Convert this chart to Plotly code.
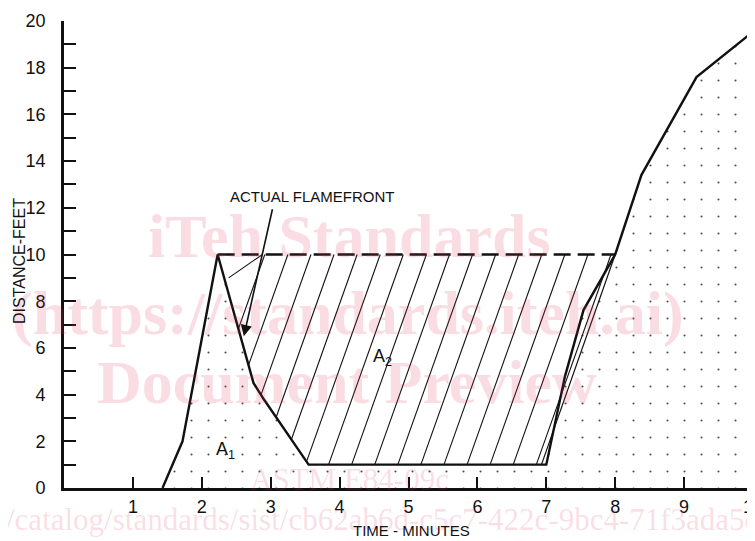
import plotly.graph_objects as go

# ---------------- data ----------------
# actual flamefront (distance in feet vs time in minutes), closed down to the axis at the right
front_x = [1.43, 1.72, 2.23, 2.75, 2.90, 3.55, 7.00, 7.06, 7.27, 7.54, 8.00, 8.38, 9.18, 9.97, 9.97]
front_y = [0.0, 2.0, 10.0, 4.5, 3.8, 1.0, 1.0, 1.85, 4.77, 7.62, 10.0, 13.4, 17.6, 19.47, 0.0]

# hatched area A2 (between flamefront and the 10 ft level)
hatch_x = [2.23, 2.75, 2.90, 3.55, 6.93, 8.00]
hatch_y = [10.0, 4.5, 3.8, 1.0, 1.0, 10.0]

# dashed 10 ft reference level
level_x = [2.23, 8.00]
level_y = [10.0, 10.0]

# short extra hatch stroke near the peak
extra_x = [2.39, 2.88]
extra_y = [9.0, 10.0]

x_ticks = [1, 2, 3, 4, 5, 6, 7, 8, 9, 10]
y_ticks = [0, 2, 4, 6, 8, 10, 12, 14, 16, 18, 20]
y_minor = [1, 3, 5, 7, 9, 11, 13, 15, 17, 19]

# ---------------- styling constants ----------------
HATCH_SLOPE = 8.3      # data units dy/dx of the hatch strokes
HATCH_STEP = 0.335     # horizontal spacing of the strokes (minutes)
HATCH_BASE = 3.84      # x where one stroke crosses y = 1
HATCH_MIN_C = 1.8

# the page body has an 8px margin: size the figure so it exactly fills the rest of the window
OFF = 8
WIN_W, WIN_H = 755, 541
FIG_W, FIG_H = WIN_W - OFF, WIN_H - OFF
PL, PT, PW, PH = 64, 21, 689, 467   # plot area in window pixels

SANS = "Liberation Sans, Arial, Roboto, sans-serif"
SERIF = "Liberation Serif, DejaVu Serif, Times New Roman, serif"
INK = "#111111"
WM = "rgba(225,50,90,0.17)"


def px_x(p):
    return (p - PL) / PW


def px_y(p):
    return (PT + PH - p) / PH


def clip_stroke(c):
    """Intersect the stroke x = c + (y-1)/slope with the convex hatch polygon."""
    pts = []
    n = len(hatch_x)
    for i in range(n):
        x1, y1 = hatch_x[i], hatch_y[i]
        x2, y2 = hatch_x[(i + 1) % n], hatch_y[(i + 1) % n]
        f1 = x1 - c - (y1 - 1) / HATCH_SLOPE
        f2 = x2 - c - (y2 - 1) / HATCH_SLOPE
        if f1 == f2:
            continue
        if (f1 <= 0 <= f2) or (f2 <= 0 <= f1):
            t = f1 / (f1 - f2)
            pts.append((x1 + t * (x2 - x1), y1 + t * (y2 - y1)))
    if len(pts) < 2:
        return None
    pts.sort(key=lambda p: p[1])
    return pts[0], pts[-1]


hx, hy = [], []
for k in range(-20, 20):
    c = HATCH_BASE + k * HATCH_STEP
    if c < HATCH_MIN_C:
        continue
    seg = clip_stroke(c)
    if seg is None:
        continue
    (xa, ya), (xb, yb) = seg
    if abs(yb - ya) < 1e-6:
        continue
    hx += [xa, xb, None]
    hy += [ya, yb, None]
hx += extra_x + [None]
hy += extra_y + [None]

fig = go.Figure()

# stippled area A1 under the flamefront
fig.add_trace(go.Scatter(
    x=front_x, y=front_y, mode="lines", fill="toself",
    line=dict(color=INK, width=2.4),
    fillcolor="rgba(255,255,255,0)",
    fillpattern=dict(shape=".", size=17, solidity=0.012, fgcolor="#222222", fgopacity=0.8),
    hoverinfo="skip", showlegend=False, cliponaxis=False,
))

# hatch strokes of A2
fig.add_trace(go.Scatter(
    x=hx, y=hy, mode="lines", line=dict(color=INK, width=1.1),
    hoverinfo="skip", showlegend=False, connectgaps=False,
))

# right edge of the hatched area (thin)
fig.add_trace(go.Scatter(
    x=[hatch_x[4], hatch_x[5]], y=[hatch_y[4], hatch_y[5]], mode="lines",
    line=dict(color=INK, width=1.2), hoverinfo="skip", showlegend=False,
))

# dashed 10 ft level
fig.add_trace(go.Scatter(
    x=level_x, y=level_y, mode="lines",
    line=dict(color=INK, width=2.6, dash="17px,7px"),
    hoverinfo="skip", showlegend=False,
))

annotations = [
    # watermark texts
    dict(text="<b>iTeh Standards</b>", x=px_x(349), y=px_y(236),
         font=dict(family=SERIF, size=62, color=WM)),
    dict(text="<b>(https://standards.iteh.ai)</b>", x=px_x(348), y=px_y(313),
         font=dict(family=SERIF, size=62, color=WM)),
    dict(text="<b>Document Preview</b>", x=px_x(347), y=px_y(382),
         font=dict(family=SERIF, size=62, color=WM)),
    dict(text="ASTM E84-09c", x=px_x(349), y=px_y(479),
         font=dict(family=SERIF, size=31, color=WM)),
    dict(text="/catalog/standards/sist/cb62ab6d-c5c7-422c-9bc4-71f3ada5c", x=px_x(4),
         y=px_y(519), xanchor="left",
         font=dict(family=SERIF, size=31, color=WM)),
    # axis titles
    dict(text="DISTANCE-FEET", x=px_x(19), y=px_y(261), textangle=-90,
         font=dict(family=SANS, size=16, color=INK)),
    dict(text="TIME - MINUTES", x=px_x(411), y=px_y(530),
         font=dict(family=SANS, size=15, color=INK)),
]
for a in annotations:
    a.update(xref="paper", yref="paper", showarrow=False)
    a.setdefault("xanchor", "center")
    a.setdefault("yanchor", "middle")

annotations += [
    dict(text="ACTUAL FLAMEFRONT", x=3.6, y=12.5, xref="x", yref="y", showarrow=False,
         font=dict(family=SANS, size=15, color=INK)),
    dict(text="", x=2.61, y=6.5, ax=3.03, ay=12.0, xref="x", yref="y", axref="x", ayref="y",
         showarrow=True, arrowhead=2, arrowsize=1.4, arrowwidth=1.6, arrowcolor=INK, standoff=0),
    dict(text="A<sub>1</sub>", x=2.34, y=1.6, xref="x", yref="y", showarrow=False,
         font=dict(family=SANS, size=18, color=INK)),
    dict(text="A<sub>2</sub>", x=4.62, y=5.6, xref="x", yref="y", showarrow=False,
         font=dict(family=SANS, size=18, color=INK)),
]

fig.update_layout(
    width=FIG_W, height=FIG_H,
    margin=dict(l=PL - OFF, r=FIG_W - (PL - OFF) - PW, t=PT - OFF, b=FIG_H - (PT - OFF) - PH,
                autoexpand=False),
    paper_bgcolor="white", plot_bgcolor="white",
    showlegend=False,
    annotations=annotations,
    xaxis=dict(
        range=[0, 10], showgrid=False, zeroline=False,
        showline=True, linewidth=3.2, linecolor=INK,
        ticks="inside", ticklen=11, tickwidth=1.8, tickcolor=INK,
        tickvals=x_ticks, ticktext=[str(v) for v in x_ticks],
        tickfont=dict(family=SANS, size=18, color=INK),
        ticklabeloverflow="allow",
        fixedrange=True,
    ),
    yaxis=dict(
        range=[0, 20], showgrid=False, zeroline=False,
        showline=True, linewidth=2.6, linecolor=INK,
        ticks="inside", ticklen=12, tickwidth=1.6, tickcolor=INK,
        tickvals=y_ticks, ticktext=[str(v) for v in y_ticks],
        tickfont=dict(family=SANS, size=18, color=INK),
        ticklabelstandoff=12,
        ticklabeloverflow="allow",
        minor=dict(ticks="inside", ticklen=12, tickwidth=1.6, tickcolor=INK,
                   tickvals=y_minor, showgrid=False),
        fixedrange=True,
    ),
)

fig.write_html("out.html")
